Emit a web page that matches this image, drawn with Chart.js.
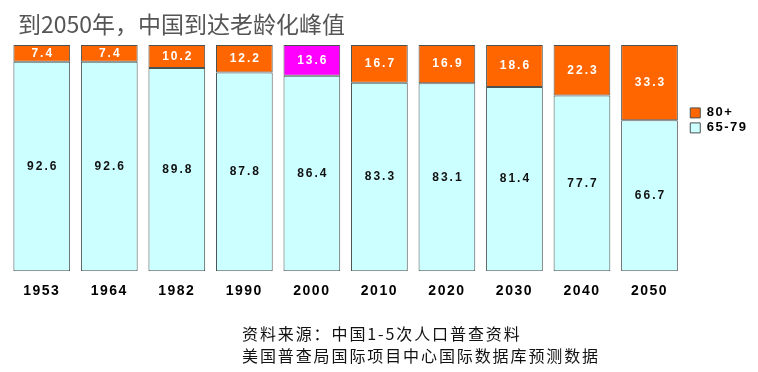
<!DOCTYPE html>
<html>
<head>
<meta charset="utf-8">
<script src="https://cdn.jsdelivr.net/npm/chart.js@4"></script>
<style>
  body { margin: 0; background: #fff; }
  #wrap { position: relative; width: 758px; height: 372px; }
  #chart { position: absolute; left: 0; top: 0; }
  .title {
    position: absolute; left: 18px; top: 6px;
    font: 23px "Noto Sans CJK SC", sans-serif; color: #555;
    white-space: nowrap;
  }
  .source {
    position: absolute; left: 242px; top: 322px;
    font: 16px "Noto Sans CJK SC", sans-serif; color: #111;
    letter-spacing: 1.9px; line-height: 22px; white-space: nowrap;
  }
</style>
</head>
<body>
<div id="wrap">
  <canvas id="chart" width="758" height="372"></canvas>
  <div class="title">到2050年，中国到达老龄化峰值</div>
  <div class="source">资料来源：中国1-5次人口普查资料<br>美国普查局国际项目中心国际数据库预测数据</div>
</div>
<script>
const years = ['1953', '1964', '1982', '1990', '2000', '2010', '2020', '2030', '2040', '2050'];
const age65to79 = [92.6, 92.6, 89.8, 87.8, 86.4, 83.3, 83.1, 81.4, 77.7, 66.7];
const age80plus = [7.4, 7.4, 10.2, 12.2, 13.6, 16.7, 16.9, 18.6, 22.3, 33.3];

const orange = '#ff6600';
const cyan = '#ccffff';
// 2000 stands out in magenta
const colors80 = years.map(y => y === '2000' ? '#ff00ff' : orange);

// value labels inside each segment
const segmentLabels = {
    id: 'segmentLabels',
    afterDatasetsDraw(chart) {
        const ctx = chart.ctx;
        ctx.save();
        ctx.font = 'bold 12px "Liberation Sans", Arial, sans-serif';
        ctx.letterSpacing = '2px';
        ctx.textAlign = 'center';
        ctx.textBaseline = 'middle';
        chart.data.datasets.forEach((ds, i) => {
            const meta = chart.getDatasetMeta(i);
            ctx.fillStyle = i === 1 ? '#ffffff' : '#111111';
            meta.data.forEach((bar, j) => {
                const p = bar.getCenterPoint();
                ctx.fillText(ds.data[j].toFixed(1), p.x + 1, p.y);
            });
        });
        ctx.restore();
    }
};

// wider spacing on axis and legend text, like the original
const spacing = {
    id: 'spacing',
    beforeDraw(chart) { chart.ctx.letterSpacing = '1.5px'; },
    afterDraw(chart) { chart.ctx.letterSpacing = '0px'; }
};

new Chart(document.getElementById('chart'), {
    type: 'bar',
    data: {
        labels: years,
        datasets: [{
            label: '65-79',
            data: age65to79,
            backgroundColor: cyan,
            borderColor: '#4a5252',
            borderWidth: 1,
            borderSkipped: false
        }, {
            label: '80+',
            data: age80plus,
            backgroundColor: colors80,
            borderColor: '#4a5252',
            borderWidth: 1,
            borderSkipped: false
        }]
    },
    options: {
        responsive: false,
        animation: false,
        layout: { padding: { left: 8, top: 45, right: 8, bottom: 60 } },
        datasets: { bar: { barPercentage: 0.84, categoryPercentage: 1 } },
        scales: {
            x: {
                stacked: true,
                grid: { display: false, drawTicks: false },
                border: { display: false },
                ticks: {
                    color: '#000',
                    padding: 12,
                    font: { family: '"Liberation Sans", Arial, sans-serif', size: 14, weight: 'bold' }
                }
            },
            y: {
                stacked: true,
                position: 'right',
                min: 0,
                max: 100,
                ticks: { display: false },
                grid: { display: false },
                border: { display: false },
                // keeps a small gap between the last bar and the legend
                afterFit(scale) { scale.width = 5; }
            }
        },
        plugins: {
            legend: {
                position: 'right',
                align: 'start',
                reverse: true,
                title: { display: true, text: '', padding: { top: 45, bottom: 0 } },
                labels: {
                    boxWidth: 10,
                    boxHeight: 10,
                    padding: 2,
                    color: '#000',
                    font: { family: '"Liberation Sans", Arial, sans-serif', size: 13, weight: 'bold' }
                }
            },
            tooltip: { enabled: false }
        }
    },
    plugins: [segmentLabels, spacing]
});
</script>
</body>
</html>
